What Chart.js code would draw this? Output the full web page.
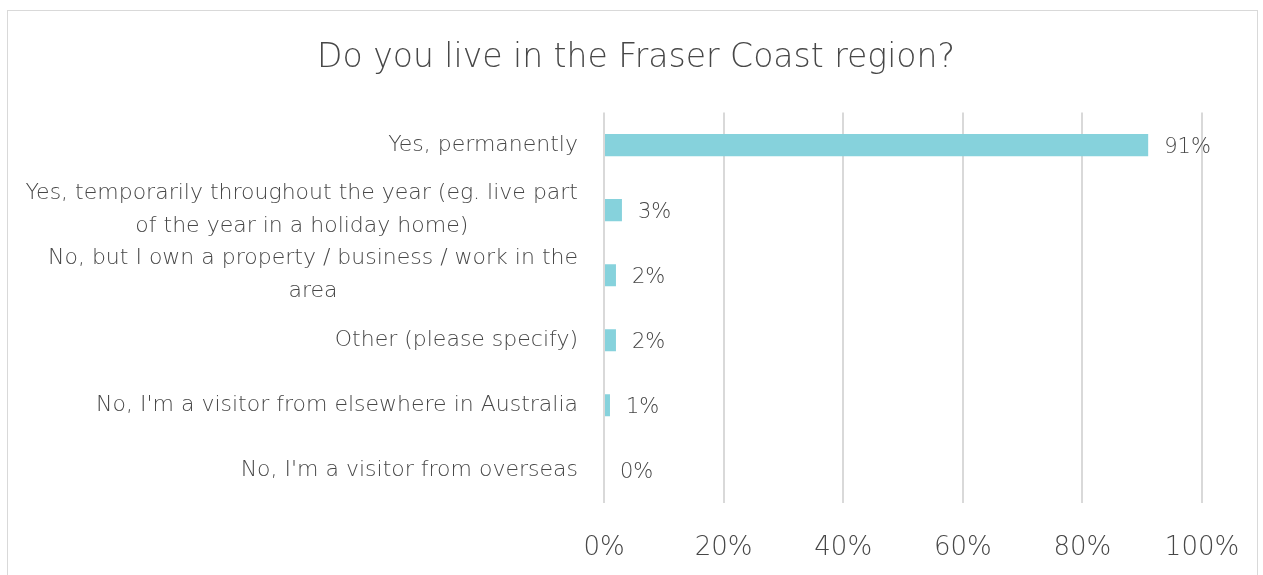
<!DOCTYPE html>
<html lang="en">
<head>
    <meta charset="UTF-8">
    <title>Do you live in the Fraser Coast region?</title>
    <script src="https://cdn.jsdelivr.net/npm/chart.js@4"></script>
    <style>
        html, body {
            margin: 0;
            padding: 0;
            background: #fff;
            overflow: hidden;
        }

        #box {
            position: absolute;
            left: 7px;
            top: 10px;
            width: 1249px;
            height: 600px;
            border: 1.5px solid #d9d9d9;
        }
    </style>
</head>
<body>
    <div id="box">
        <canvas id="chart"></canvas>
    </div>
    <script>
        const categories = [
            ["Yes, permanently"],
            ["Yes, temporarily throughout the year (eg. live part", "of the year in a holiday home)"],
            ["No, but I own a property / business / work in the", "area"],
            ["Other (please specify)"],
            ["No, I'm a visitor from elsewhere in Australia"],
            ["No, I'm a visitor from overseas"]
        ];
        const shares = [91, 3, 2, 2, 1, 0];
        const tickValues = [0, 20, 40, 60, 80, 100];

        const FONT = "'DejaVu Sans'";
        const GREY = "#474747";

        // category labels drawn by hand: block right aligned, lines centred
        const catLabels = {
            id: "catLabels",
            afterDraw(chart) {
                const ctx = chart.ctx;
                const y = chart.scales.y;
                const right = chart.chartArea.left - 26;
                ctx.save();
                ctx.font = "200 22px " + FONT;
                ctx.fillStyle = GREY;
                ctx.textBaseline = "middle";
                ctx.textAlign = "center";
                categories.forEach((lines, i) => {
                    const w = Math.max(...lines.map(l => ctx.measureText(l).width));
                    const cx = right - w / 2;
                    const cy = y.getPixelForValue(i);
                    const lh = 33;
                    lines.forEach((l, j) => {
                        ctx.fillText(l, cx, cy + (j - (lines.length - 1) / 2) * lh);
                    });
                });
                ctx.restore();
            }
        };

        const valueLabels = {
            id: "valueLabels",
            afterDatasetsDraw(chart) {
                const ctx = chart.ctx;
                const meta = chart.getDatasetMeta(0);
                ctx.save();
                ctx.font = "200 21px " + FONT;
                ctx.fillStyle = GREY;
                ctx.textBaseline = "middle";
                ctx.textAlign = "left";
                meta.data.forEach((bar, i) => {
                    ctx.fillText(shares[i] + "%", bar.x + 16, bar.y + 2);
                });
                ctx.restore();
            }
        };

        new Chart(document.getElementById("chart"), {
            type: "bar",
            data: {
                labels: categories.map(c => c.join(" ")),
                datasets: [{
                    data: shares,
                    backgroundColor: "#86d2dc",
                    borderWidth: 0,
                    barPercentage: 0.68,
                    categoryPercentage: 0.5
                }]
            },
            options: {
                indexAxis: "y",
                responsive: true,
                maintainAspectRatio: false,
                animation: false,
                layout: {
                    padding: { left: 62, right: 55, top: 0, bottom: 17 }
                },
                plugins: {
                    legend: { display: false },
                    tooltip: { enabled: false },
                    title: {
                        display: true,
                        text: "Do you live in the Fraser Coast region?",
                        color: GREY,
                        font: { family: FONT, size: 33, weight: 200 },
                        padding: { top: 28, bottom: 34 }
                    }
                },
                scales: {
                    x: {
                        min: 0,
                        max: 100,
                        afterBuildTicks(scale) {
                            scale.ticks = tickValues.map(v => ({ value: v }));
                        },
                        afterFit(scale) {
                            scale.paddingLeft = 0;
                            scale.paddingRight = 0;
                        },
                        border: { display: false },
                        grid: { color: "#d9d9d9", lineWidth: 2, drawTicks: false },
                        ticks: {
                            padding: 30,
                            color: GREY,
                            font: { family: FONT, size: 26, weight: 200 },
                            callback: v => v + "%"
                        }
                    },
                    y: {
                        grid: { display: false },
                        border: { display: false },
                        ticks: { display: false },
                        afterFit(scale) {
                            scale.width = 534;
                        }
                    }
                }
            },
            plugins: [catLabels, valueLabels]
        });
    </script>
</body>
</html>
